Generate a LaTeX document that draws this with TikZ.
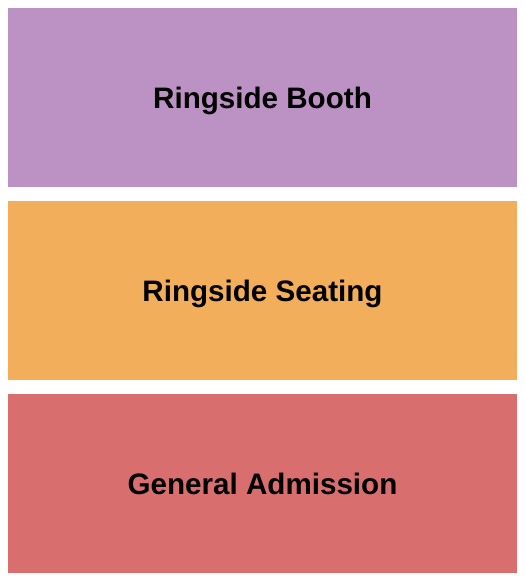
\documentclass[tikz,border=0pt]{standalone}
\usepackage{fontspec}
\setmainfont{Liberation Sans}
\usepackage{xcolor}
\usepackage{tikz}
\usetikzlibrary{positioning}
\definecolor{bg}{HTML}{FFFFFF}
\definecolor{booth}{HTML}{BC91C3}
\definecolor{seating}{HTML}{F2AE5A}
\definecolor{general}{HTML}{D86E6E}
\definecolor{text}{HTML}{000000}
\tikzset{
  section/.style={draw=none, minimum width=509pt, minimum height=179pt, inner sep=0pt, outer sep=0pt,
    text height=21.2pt, text depth=0pt,
    text=text, font=\fontsize{29.6}{34}\selectfont\bfseries},
}
\begin{document}
\begin{tikzpicture}[x=1pt,y=-1pt]
  \fill[bg] (0,0) rectangle (525,580);
  \useasboundingbox (0,0) rectangle (525,580);
  \node[section, fill=booth] (booth) at (262.5,97.5) {Ringside Booth};
  \node[section, fill=seating, below=14pt of booth] (seating) {Ringside Seating};
  \node[section, fill=general, below=14pt of seating] (general) {General Admission};
\end{tikzpicture}
\end{document}
